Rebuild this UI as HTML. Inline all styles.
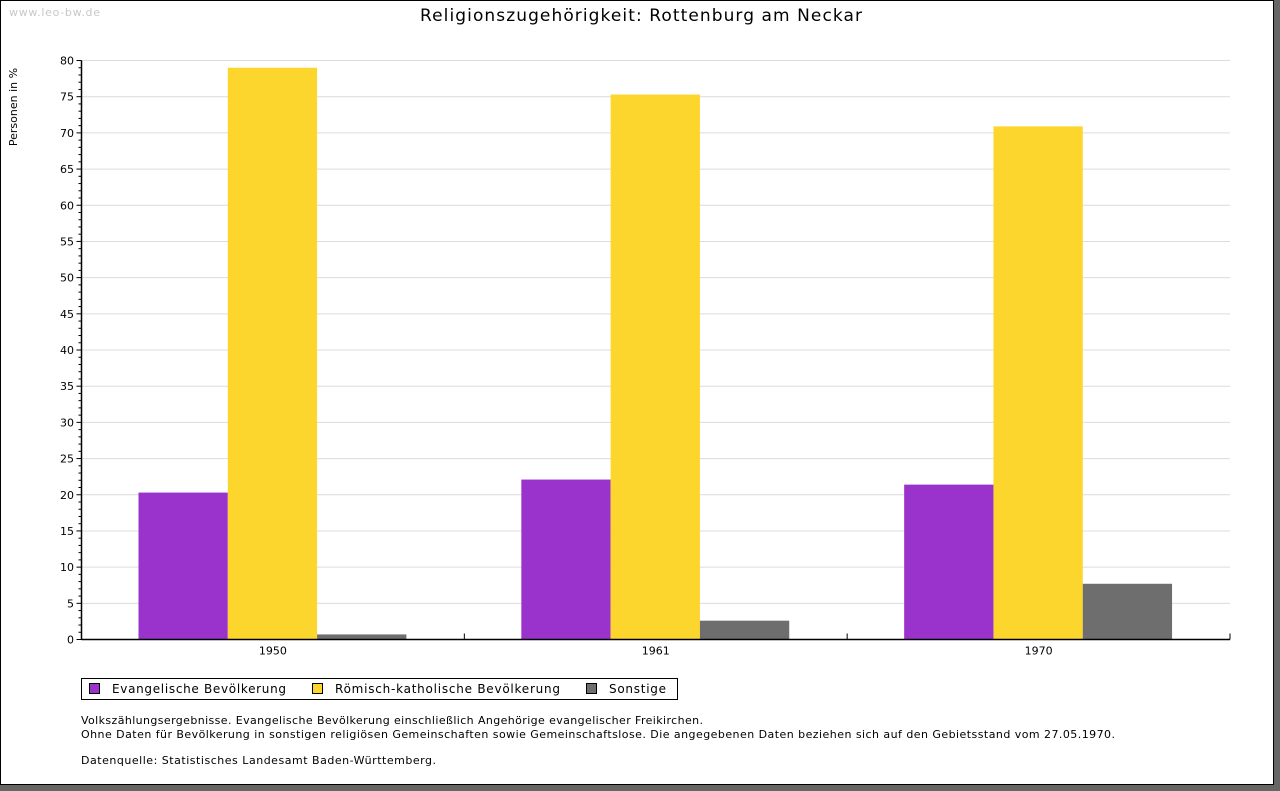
<!DOCTYPE html>
<html><head><meta charset="utf-8"><style>
body{margin:0;width:1280px;height:791px;background:#666;overflow:hidden;font-family:"DejaVu Sans","Liberation Sans",sans-serif}
#frame{position:absolute;left:0;top:0;width:1272px;height:783px;background:#fff;border:1px solid #000}
</style></head><body>
<div id="frame">
<svg id="c" width="1274" height="785" font-family="DejaVu Sans, Liberation Sans, sans-serif">
<text x="8" y="15" font-size="11" fill="#c8c8c8" textLength="91">www.leo-bw.de</text>
<text x="419" y="20" font-size="17" textLength="442" fill="#000">Religionszugehörigkeit: Rottenburg am Neckar</text>
<text transform="translate(16,106) rotate(-90)" font-size="11" text-anchor="middle">Personen in %</text>
<g id="grid"></g><g id="bars"></g><g id="axes"></g>
<rect x="80.5" y="677.5" width="596" height="21" fill="none" stroke="#000"/>
<g><rect x="88.5" y="682.5" width="10" height="10" fill="#9933cc" stroke="#000"/><text x="111" y="692" font-size="12" textLength="174">Evangelische Bevölkerung</text></g>
<g><rect x="311.5" y="682.5" width="10" height="10" fill="#fcd62c" stroke="#000"/><text x="334" y="692" font-size="12" textLength="225">Römisch-katholische Bevölkerung</text></g>
<g><rect x="585.5" y="682.5" width="10" height="10" fill="#6e6e6e" stroke="#000"/><text x="608" y="692" font-size="12" textLength="57">Sonstige</text></g>
<g font-size="11">
<text x="80" y="723" textLength="622">Volkszählungsergebnisse. Evangelische Bevölkerung einschließlich Angehörige evangelischer Freikirchen.</text>
<text x="80" y="737" textLength="1034">Ohne Daten für Bevölkerung in sonstigen religiösen Gemeinschaften sowie Gemeinschaftslose. Die angegebenen Daten beziehen sich auf den Gebietsstand vom 27.05.1970.</text>
<text x="80" y="763" textLength="355">Datenquelle: Statistisches Landesamt Baden-Württemberg.</text>
</g>
</svg></div>
<script>
const categories=["1950","1961","1970"];
const evangelisch=[20.3,22.1,21.4];
const katholisch=[79.0,75.3,70.9];
const sonstige=[0.7,2.6,7.7];
const yTicks=[0,5,10,15,20,25,30,35,40,45,50,55,60,65,70,75,80];
const NS="http://www.w3.org/2000/svg";
const x0=80.5,x1=1229,yTop=59.5,yBot=638.5,yMax=80;
const y=v=>yBot-(v/yMax)*(yBot-yTop);
const gw=(x1-x0)/categories.length;
function mk(p,t,a){const e=document.createElementNS(NS,t);for(const k in a)e.setAttribute(k,a[k]);p.appendChild(e);return e;}
const grid=document.getElementById('grid'),bars=document.getElementById('bars'),axes=document.getElementById('axes');
yTicks.forEach(v=>{
 if(v>0){const l=mk(grid,'line',{x1:x0,x2:x1,y1:y(v),y2:y(v),stroke:'#dcdcdc'});
 
 }
 const t=mk(axes,'text',{x:73,y:y(v)+4,'font-size':11,'text-anchor':'end'});t.textContent=v;
 
 
 mk(axes,'line',{x1:x0-5,x2:x0,y1:y(v),y2:y(v),stroke:'#000'});
});
for(let v=1;v<yMax;v++){if(v%5)mk(axes,'line',{x1:x0-3,x2:x0,y1:y(v),y2:y(v),stroke:'#000'});}
const series=[[evangelisch,'#9933cc','evangelisch'],[katholisch,'#fcd62c','katholisch'],[sonstige,'#6e6e6e','sonstige']];
const bw=89.3,off=57;
categories.forEach((c,i)=>{
 series.forEach((s,j)=>{
  const bx=x0+i*gw+off+j*bw;
  const r=mk(bars,'rect',{x:bx,y:y(s[0][i]),width:bw,height:yBot-y(s[0][i]),fill:s[1]});
  
  
 });
 const t=mk(axes,'text',{x:x0+i*gw+gw/2,y:yBot+15,'font-size':11,'text-anchor':'middle'});t.textContent=c;
 
 
 mk(axes,'line',{x1:x0+(i+1)*gw,x2:x0+(i+1)*gw,y1:yBot,y2:yBot-6,stroke:'#000'});
});
const ya=mk(axes,'line',{x1:x0,x2:x0,y1:yTop,y2:yBot,stroke:'#000','stroke-width':1.5});


const xa=mk(axes,'line',{x1:x0,x2:x1,y1:yBot,y2:yBot,stroke:'#000','stroke-width':1.5});


</script>
</body></html>
